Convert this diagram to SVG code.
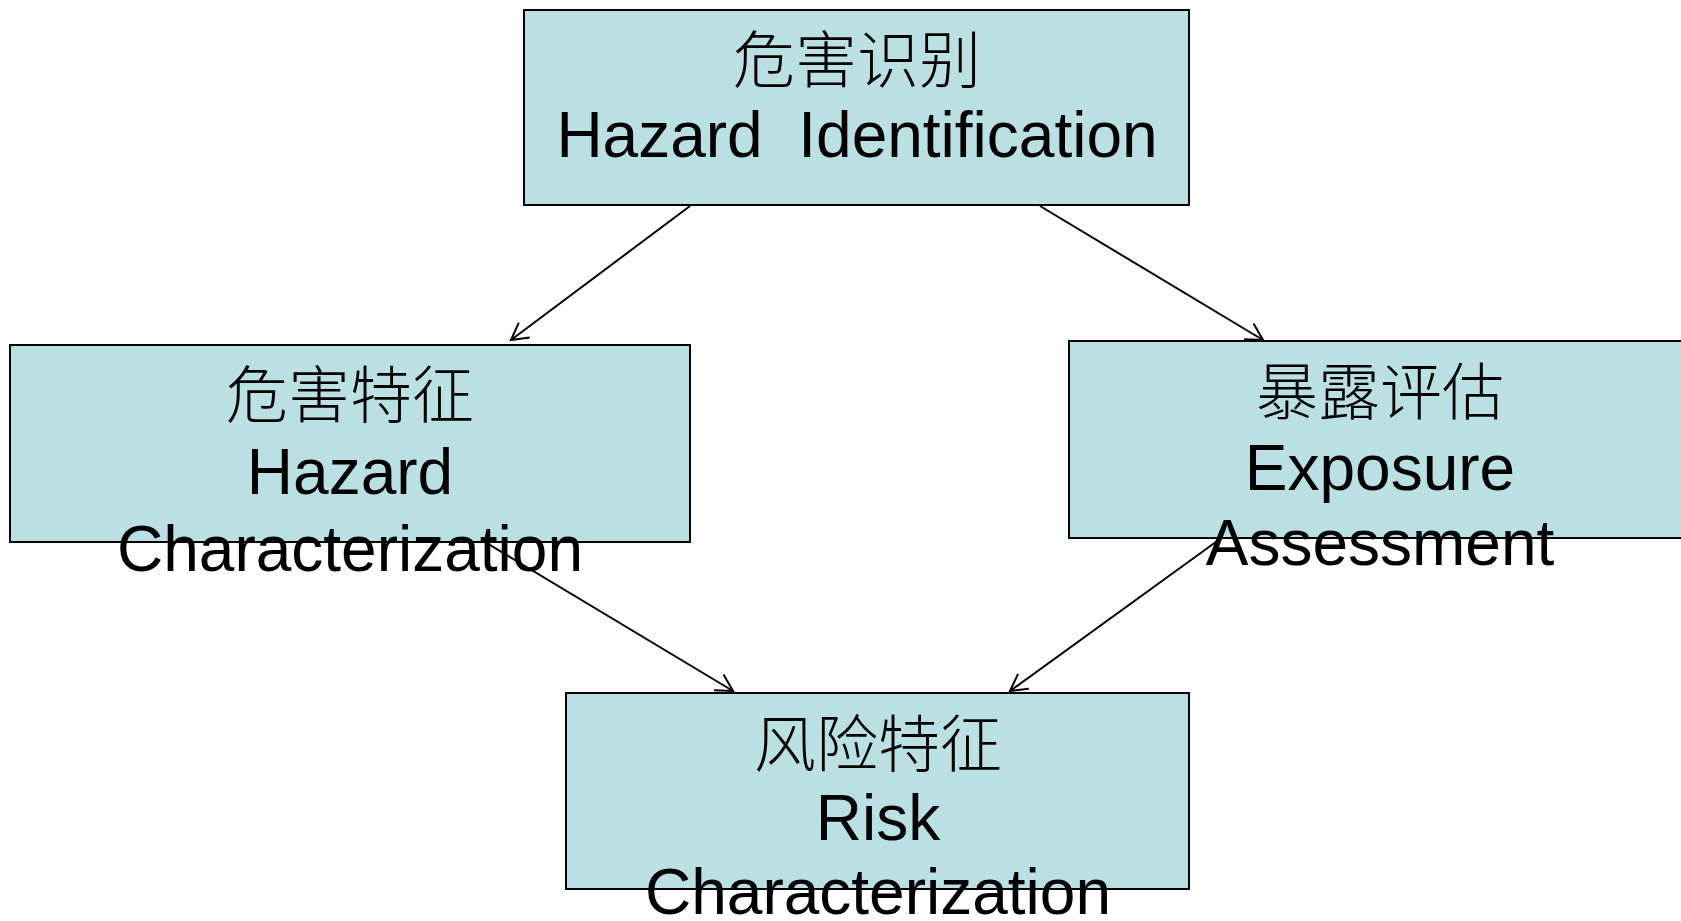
<svg xmlns="http://www.w3.org/2000/svg" width="1681" height="921" viewBox="0 0 1681 921">
  <style>
    .box { fill: #BBE0E3; stroke: #000000; stroke-width: 2; }
    .zh { font-family: "Noto Sans CJK SC", "Noto Sans CJK TC", sans-serif; font-size: 62px; font-weight: 300; fill: #000000; text-anchor: middle; }
    .en { font-family: "Liberation Sans", Arial, sans-serif; font-size: 64px; fill: #000000; text-anchor: middle; }
    .conn { stroke: #000000; stroke-width: 2; fill: none; }
  </style>
  <defs>
    <marker id="arrow" markerUnits="userSpaceOnUse" viewBox="-20 -12 24 24" markerWidth="24" markerHeight="24" refX="0" refY="0" orient="auto">
      <path d="M-16.6,-9.2 L0,0 L-16.6,9.2" stroke="#000000" stroke-width="2" fill="none"/>
    </marker>
  </defs>
  <rect x="0" y="0" width="1681" height="921" fill="#FFFFFF"/>

  <g id="connectors">
    <line class="conn" x1="690" y1="206" x2="511" y2="340" marker-end="url(#arrow)"/>
    <line class="conn" x1="1040" y1="206" x2="1263" y2="340" marker-end="url(#arrow)"/>
    <line class="conn" x1="485" y1="542" x2="733" y2="691" marker-end="url(#arrow)"/>
    <line class="conn" x1="1220" y1="539" x2="1010" y2="691" marker-end="url(#arrow)"/>
  </g>

  <g id="hazard-identification">
    <rect class="box" x="524" y="10" width="665" height="195"/>
    <text class="zh" x="857" y="83">危害识别</text>
    <text class="en" x="857" y="157" xml:space="preserve">Hazard  Identification</text>
  </g>

  <g id="hazard-characterization">
    <rect class="box" x="10" y="345" width="680" height="197"/>
    <text class="zh" x="350" y="418">危害特征</text>
    <text class="en" x="350" y="494">Hazard</text>
    <text class="en" x="350" y="571">Characterization</text>
  </g>

  <g id="exposure-assessment">
    <rect class="box" x="1069" y="341" width="630" height="197"/>
    <text class="zh" x="1380" y="415">暴露评估</text>
    <text class="en" x="1380" y="490">Exposure</text>
    <text class="en" x="1380" y="565">Assessment</text>
  </g>

  <g id="risk-characterization">
    <rect class="box" x="566" y="693" width="623" height="196"/>
    <text class="zh" x="878" y="767">风险特征</text>
    <text class="en" x="878" y="840">Risk</text>
    <text class="en" x="878" y="914">Characterization</text>
  </g>
</svg>
